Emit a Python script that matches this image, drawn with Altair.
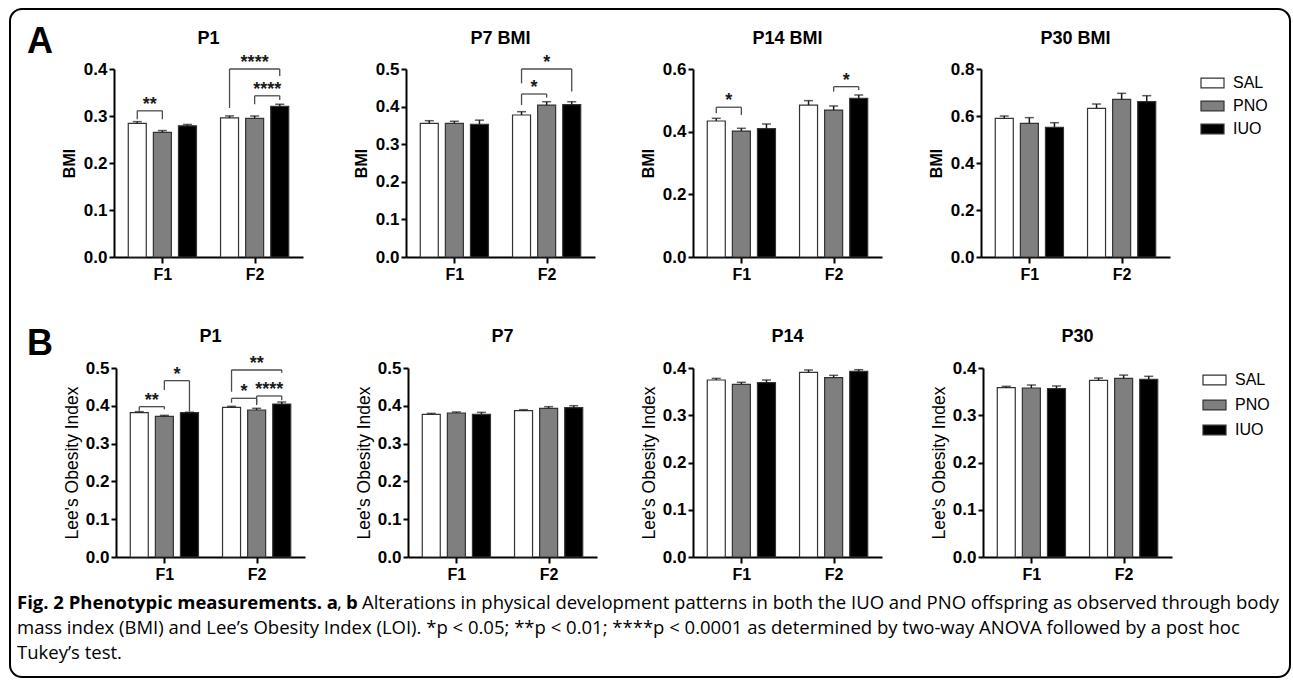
import altair as alt
import pandas as pd

# ---------------- data ----------------
groups = ["F1", "F2"]
treatments = ["SAL", "PNO", "IUO"]
fills = ["#ffffff", "#7f7f7f", "#000000"]

# order: F1-SAL, F1-PNO, F1-IUO, F2-SAL, F2-PNO, F2-IUO
bmi_p1_mean = [0.2845, 0.265, 0.279, 0.296, 0.295, 0.3205]
bmi_p1_sem = [0.0035, 0.004, 0.003, 0.0042, 0.005, 0.0045]
bmi_p7_mean = [0.3555, 0.3555, 0.353, 0.3777, 0.404, 0.405]
bmi_p7_sem = [0.007, 0.0055, 0.011, 0.0088, 0.009, 0.008]
bmi_p14_mean = [0.434, 0.402, 0.4096, 0.485, 0.469, 0.5064]
bmi_p14_sem = [0.0086, 0.0087, 0.0149, 0.014, 0.013, 0.0106]
bmi_p30_mean = [0.590, 0.569, 0.552, 0.6326, 0.671, 0.661]
bmi_p30_sem = [0.010, 0.024, 0.0196, 0.0184, 0.0255, 0.0255]

loi_p1_mean = [0.3818, 0.372, 0.3818, 0.396, 0.3889, 0.4048]
loi_p1_sem = [0.0027, 0.0028, 0.0012, 0.0026, 0.0044, 0.0052]
loi_p7_mean = [0.3775, 0.381, 0.3775, 0.387, 0.3933, 0.395]
loi_p7_sem = [0.0025, 0.0026, 0.0052, 0.0027, 0.0044, 0.0053]
loi_p14_mean = [0.3746, 0.3654, 0.369, 0.3909, 0.3795, 0.393]
loi_p14_sem = [0.0034, 0.0043, 0.0056, 0.0049, 0.005, 0.0034]
loi_p30_mean = [0.3583, 0.3577, 0.3563, 0.374, 0.378, 0.376]
loi_p30_sem = [0.0029, 0.0063, 0.0057, 0.0048, 0.007, 0.0064]

# significance brackets: (generation, from, to, bracket height, left leg end, right leg end, stars)
bmi_p1_sig = [("F1", "SAL", "PNO", 0.311, 0.293, 0.293, "**"),
              ("F2", "SAL", "IUO", 0.400, 0.317, 0.385, "****"),
              ("F2", "PNO", "IUO", 0.343, 0.325, 0.334, "****")]
bmi_p7_sig = [("F2", "SAL", "PNO", 0.4335, 0.404, 0.424, "*"),
              ("F2", "SAL", "IUO", 0.500, 0.462, 0.440, "*")]
bmi_p14_sig = [("F1", "SAL", "PNO", 0.478, 0.4585, 0.453, "*"),
               ("F2", "PNO", "IUO", 0.5436, 0.5277, 0.533, "*")]
bmi_p30_sig = []
loi_p1_sig = [("F1", "SAL", "PNO", 0.3977, 0.387, 0.3907, "**"),
              ("F1", "PNO", "IUO", 0.4665, 0.4418, 0.385, "*"),
              ("F2", "SAL", "IUO", 0.4947, 0.4373, 0.4876, "**"),
              ("F2", "SAL", "PNO", 0.4198, 0.408, 0.402, "*"),
              ("F2", "PNO", "IUO", 0.426, 0.405, 0.415, "****")]
loi_p7_sig = []
loi_p14_sig = []
loi_p30_sig = []

titles_a = ["P1", "P7 BMI", "P14 BMI", "P30 BMI"]
titles_b = ["P1", "P7", "P14", "P30"]
ytitle_a = "BMI"
ytitle_b = "Lee's Obesity Index"

ticks_bmi_p1 = [0.0, 0.1, 0.2, 0.3, 0.4]
ticks_bmi_p7 = [0.0, 0.1, 0.2, 0.3, 0.4, 0.5]
ticks_bmi_p14 = [0.0, 0.2, 0.4, 0.6]
ticks_bmi_p30 = [0.0, 0.2, 0.4, 0.6, 0.8]
ticks_loi_p1 = [0.0, 0.1, 0.2, 0.3, 0.4, 0.5]
ticks_loi_p7 = [0.0, 0.1, 0.2, 0.3, 0.4, 0.5]
ticks_loi_p14 = [0.0, 0.1, 0.2, 0.3, 0.4]
ticks_loi_p30 = [0.0, 0.1, 0.2, 0.3, 0.4]

caption_l1_bold = "Fig. 2 Phenotypic measurements. a"
caption_l1_comma = ","
caption_l1_b = "b"
caption_l1_rest = "Alterations in physical development patterns in both the IUO and PNO offspring as observed through body"
caption_l2 = "mass index (BMI) and Lee\u2019s Obesity Index (LOI). *p < 0.05; **p < 0.01; ****p < 0.0001 as determined by two-way ANOVA followed by a post hoc"
caption_l3 = "Tukey\u2019s test."

# ---------------- layout ----------------
FONT = "Liberation Sans"
CAP_FONT = "Open Sans"
CAP_SIZE = 18.5
X0, Y0 = 10, 9          # frame origin on the page
W, H = 1280, 668        # framed area
PLOT_W = 189
BAR_STEP = 0.272
X_DOMAIN = [0.53, 2.47]
SWATCH = "M-1,-0.43H1V0.43H-1Z"


def pos(g, t):
    return groups.index(g) + 1 + (treatments.index(t) - 1) * BAR_STEP


def panel(means, sems, sig, title, ytitle, ymax, ticks, ax, ybot, ytop, title_base,
          ytitle_size, ytitle_weight, ytitle_pad, legend=None):
    rows = []
    for i, (m, s) in enumerate(zip(means, sems)):
        g, t = groups[i // 3], treatments[i % 3]
        rows.append(dict(group=g, treat=t, mean=m, hi=m + s, pos=pos(g, t)))
    df = pd.DataFrame(rows)

    xs = alt.Scale(domain=X_DOMAIN, range=[ax - X0, ax - X0 + PLOT_W], nice=False, zero=False)
    ys = alt.Scale(domain=[0, ymax], range=[ybot - Y0, ytop - Y0], nice=False, zero=False)
    fs = alt.Scale(domain=treatments, range=fills)

    x_axis = alt.Axis(orient="bottom", offset=(ybot - Y0) - H, values=[1, 2],
                      labelExpr="datum.value == 1 ? 'F1' : 'F2'", title=None,
                      labelFlush=False, tickSize=6, labelPadding=3, labelFontSize=16)
    y_axis = alt.Axis(orient="left", offset=-(ax - X0), values=ticks, format=".1f",
                      title=ytitle, titleFontSize=ytitle_size, titleFontWeight=ytitle_weight,
                      titlePadding=ytitle_pad, labelFlush=False, labelPadding=2, tickSize=5,
                      labelFontSize=17)

    base = alt.Chart(df)
    bars = base.mark_bar(size=18, stroke="#333333", strokeWidth=1.2).encode(
        x=alt.X("pos:Q", scale=xs, axis=x_axis),
        y=alt.Y("mean:Q", scale=ys, axis=y_axis),
        y2=alt.datum(0),
        fill=alt.Fill("treat:N", scale=fs, legend=legend),
    )
    err = base.mark_rule(color="#1a1a1a", strokeWidth=1.5).encode(
        x=alt.X("pos:Q", scale=xs, axis=x_axis),
        y=alt.Y("mean:Q", scale=ys, axis=y_axis),
        y2="hi:Q",
    )
    cap = base.mark_tick(orient="horizontal", size=9, thickness=1.5, color="#1a1a1a").encode(
        x=alt.X("pos:Q", scale=xs, axis=x_axis),
        y=alt.Y("hi:Q", scale=ys, axis=y_axis),
    )
    layers = [bars, err, cap]

    if sig:
        segs, labels = [], []
        for g, a, b, top, yl, yr, lab in sig:
            xa, xb = pos(g, a), pos(g, b)
            segs.append(dict(x=xa, x2=xb, y=top, y2=top))
            segs.append(dict(x=xa, x2=xa, y=top, y2=yl))
            segs.append(dict(x=xb, x2=xb, y=top, y2=yr))
            labels.append(dict(mid=(xa + xb) / 2, top=top, label=lab))
        brk = alt.Chart(pd.DataFrame(segs)).mark_rule(color="#4d4d4d", strokeWidth=1.3).encode(
            x=alt.X("x:Q", scale=xs, axis=x_axis), x2="x2:Q",
            y=alt.Y("y:Q", scale=ys, axis=y_axis), y2="y2:Q",
        )
        stars = alt.Chart(pd.DataFrame(labels)).mark_text(
            font=FONT, fontWeight="bold", fontSize=18, baseline="alphabetic", dy=-1, color="#1a1a1a"
        ).encode(
            x=alt.X("mid:Q", scale=xs, axis=x_axis),
            y=alt.Y("top:Q", scale=ys, axis=y_axis),
            text="label:N",
        )
        layers += [brk, stars]

    ttl = alt.Chart(pd.DataFrame({"t": [title]})).mark_text(
        font=FONT, fontWeight="bold", fontSize=18, baseline="alphabetic", align="center", color="black"
    ).encode(
        x=alt.XDatum(1.5, type="quantitative", scale=xs, axis=x_axis),
        y=alt.value(title_base - Y0),
        text="t:N",
    )
    layers.append(ttl)
    return alt.layer(*layers)


def legend_at(px, py, row_pad):
    return alt.Legend(orient="none", legendX=px - X0, legendY=py - Y0, title=None,
                      symbolType=SWATCH, symbolSize=529, symbolStrokeColor="#333333",
                      symbolStrokeWidth=1.2, symbolOpacity=1, labelFont=FONT, labelFontSize=16,
                      labelFontWeight="normal", labelColor="black", labelOffset=8,
                      rowPadding=row_pad, padding=0)


axes_a = [114, 406, 693, 981]
axes_b = [116, 408, 693, 983]
A_BOT, A_TOP, A_TITLE = 257, 69, 43.5
B_BOT, B_TOP, B_TITLE = 557, 368, 341.5

data_a = [(bmi_p1_mean, bmi_p1_sem, bmi_p1_sig, 0.4, ticks_bmi_p1),
          (bmi_p7_mean, bmi_p7_sem, bmi_p7_sig, 0.5, ticks_bmi_p7),
          (bmi_p14_mean, bmi_p14_sem, bmi_p14_sig, 0.6, ticks_bmi_p14),
          (bmi_p30_mean, bmi_p30_sem, bmi_p30_sig, 0.8, ticks_bmi_p30)]
data_b = [(loi_p1_mean, loi_p1_sem, loi_p1_sig, 0.5, ticks_loi_p1),
          (loi_p7_mean, loi_p7_sem, loi_p7_sig, 0.5, ticks_loi_p7),
          (loi_p14_mean, loi_p14_sem, loi_p14_sig, 0.4, ticks_loi_p14),
          (loi_p30_mean, loi_p30_sem, loi_p30_sig, 0.4, ticks_loi_p30)]

panels = []
for k, (m, s, sg, ymax, tk) in enumerate(data_a):
    lg = legend_at(1200, 70.5, 2) if k == 3 else None
    panels.append(panel(m, s, sg, titles_a[k], ytitle_a, ymax, tk, axes_a[k], A_BOT, A_TOP, A_TITLE,
                        16, "bold", 6, lg))
for k, (m, s, sg, ymax, tk) in enumerate(data_b):
    lg = legend_at(1202, 367.5, 4) if k == 3 else None
    panels.append(panel(m, s, sg, titles_b[k], ytitle_b, ymax, tk, axes_b[k],
                        B_BOT, B_TOP, B_TITLE, 17.5, "normal", 4, lg))


def label(text, px, py, size, weight, font=FONT, align="left"):
    return alt.Chart(pd.DataFrame({"t": [text]})).mark_text(
        font=font, fontSize=size, fontWeight=weight, align=align, baseline="alphabetic", color="black"
    ).encode(x=alt.value(px - X0), y=alt.value(py - Y0), text="t:N")


texts = [
    label("A", 27, 53, 36, "bold"),
    label("B", 27, 355, 36, "bold"),
    label(caption_l1_bold, 17, 609, CAP_SIZE, "bold", CAP_FONT),
    label(caption_l1_comma, 337, 609, CAP_SIZE, "normal", CAP_FONT),
    label(caption_l1_b, 346, 609, CAP_SIZE, "bold", CAP_FONT),
    label(caption_l1_rest, 362, 609, CAP_SIZE, "normal", CAP_FONT),
    label(caption_l2, 17, 634, CAP_SIZE, "normal", CAP_FONT),
    label(caption_l3, 17, 659, CAP_SIZE, "normal", CAP_FONT),
]

chart = alt.layer(*panels, *texts).resolve_scale(
    x="independent", y="independent", fill="independent"
).properties(
    width=W, height=H,
    padding={"left": X0, "top": Y0, "right": 1293 - X0 - W, "bottom": 683 - Y0 - H},
    autosize=alt.AutoSizeParams(type="none"),
    background="white",
).configure_view(
    stroke="black", strokeWidth=2, cornerRadius=12, fill="white"
).configure_axis(
    grid=False, domainColor="black", domainWidth=2, tickColor="black", tickWidth=2,
    labelColor="black", labelFont=FONT, labelFontWeight="bold", labelFontSize=14,
    titleFont=FONT, titleColor="black",
)

chart.save("out.html", embed_options={"renderer": "svg", "actions": False})
